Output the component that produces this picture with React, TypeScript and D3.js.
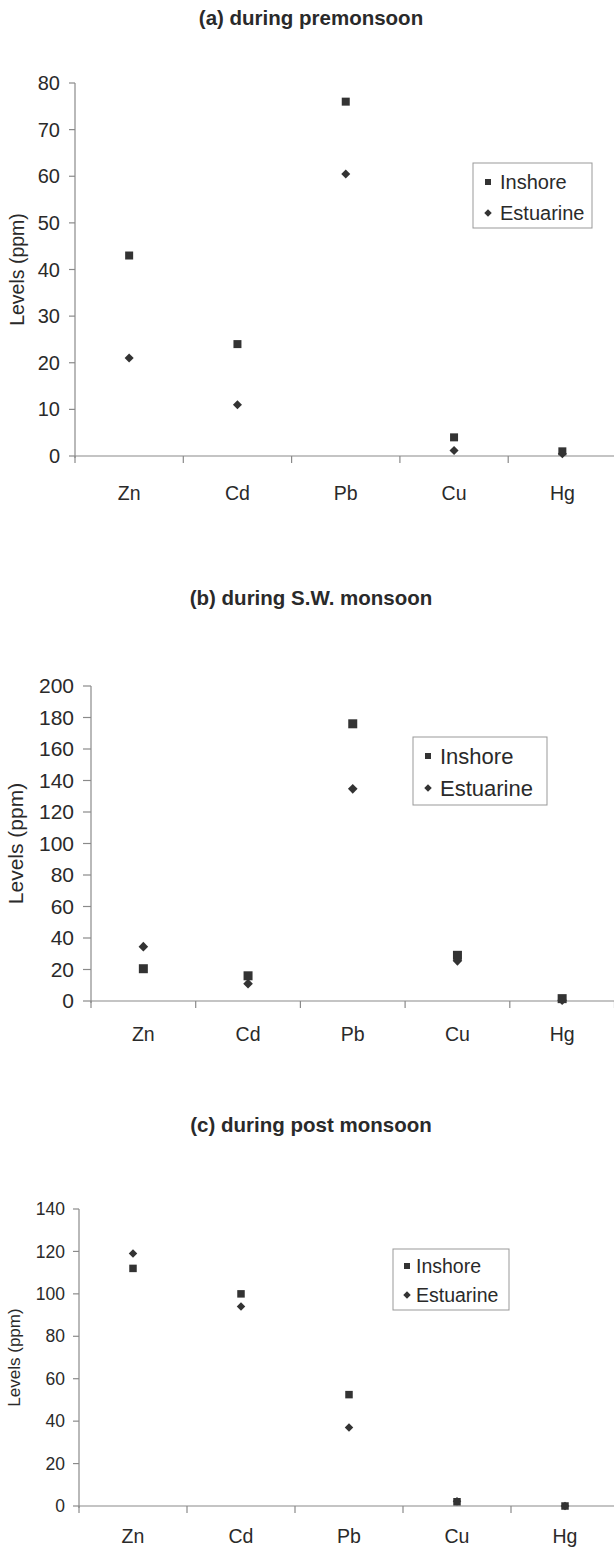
import React from "react";
import * as d3 from "d3";

const metals = ["Zn", "Cd", "Pb", "Cu", "Hg"];
const seriesNames = ["Inshore", "Estuarine"];

const preInshore = [43, 24, 76, 4, 1];
const preEstuarine = [21, 11, 60.5, 1.2, 0.5];
const preTicks = [0, 10, 20, 30, 40, 50, 60, 70, 80];

const swInshore = [20.5, 16, 176, 29, 1.5];
const swEstuarine = [34.5, 11, 134.7, 25.5, 0.5];
const swTicks = [0, 20, 40, 60, 80, 100, 120, 140, 160, 180, 200];

const postInshore = [112, 100, 52.5, 2, 0];
const postEstuarine = [119, 94, 37, 2.2, 0];
const postTicks = [0, 20, 40, 60, 80, 100, 120, 140];

const titles = ["(a) during premonsoon", "(b) during S.W. monsoon", "(c) during post monsoon"];
const yTitle = "Levels (ppm)";

const FONT = "'Liberation Sans', Arial, Helvetica, sans-serif";
const INK = "#333";
const TXT = "#2a2a2a";
const AXIS = "#8a8a8a";

type Layout = {
  titleY: number;
  titleSize: number;
  x0: number;
  band: number;
  y0: number;
  yTop: number;
  tickSize: number;
  tickLen: number;
  labelGap: number;
  labelY: number;
  yTitleX: number;
  yTitleSize: number;
  legend: { x: number; y: number; w: number; h: number; row1: number; row2: number; mx: number; tx: number; size: number };
  sq: number;
  di: number;
};

const layouts: Layout[] = [
  {
    titleY: 25, titleSize: 20.5, x0: 75, band: 108.3, y0: 456, yTop: 83, tickSize: 20, tickLen: 6, labelGap: 15, labelY: 500,
    yTitleX: 17, yTitleSize: 19.5,
    legend: { x: 473, y: 163, w: 119, h: 65, row1: 182, row2: 213, mx: 488, tx: 500, size: 20 },
    sq: 8, di: 6.4,
  },
  {
    titleY: 605, titleSize: 20.5, x0: 91, band: 104.7, y0: 1001, yTop: 686, tickSize: 21, tickLen: 8, labelGap: 17, labelY: 1041,
    yTitleX: 16, yTitleSize: 21,
    legend: { x: 413, y: 737, w: 134, h: 68, row1: 756, row2: 788, mx: 428, tx: 440, size: 22 },
    sq: 9, di: 6.8,
  },
  {
    titleY: 1132, titleSize: 20.5, x0: 79, band: 108, y0: 1506, yTop: 1209, tickSize: 17.5, tickLen: 6, labelGap: 14, labelY: 1543,
    yTitleX: 14, yTitleSize: 17,
    legend: { x: 393, y: 1249, w: 116, h: 61, row1: 1266, row2: 1295, mx: 407, tx: 416, size: 19.5 },
    sq: 7.5, di: 6,
  },
];

function Chart({ title, inshore, estuarine, ticks, L }: { title: string; inshore: number[]; estuarine: number[]; ticks: number[]; L: Layout }) {
  const x = d3.scaleBand<string>().domain(metals).range([L.x0, L.x0 + metals.length * L.band]);
  const y = d3.scaleLinear().domain([0, ticks[ticks.length - 1]]).range([L.y0, L.yTop]);
  const square = d3.symbol(d3.symbolSquare, L.sq * L.sq)() as string;
  const diamond = d3.symbol(d3.symbolSquare, L.di * L.di)() as string;
  const legSq = d3.symbol(d3.symbolSquare, 36)() as string;
  const legDi = d3.symbol(d3.symbolSquare, 28)() as string;
  const cx = (m: string) => (x(m) as number) + x.bandwidth() / 2;
  const boundaries = metals.map((m) => x(m) as number).concat([x.range()[1]]);
  const midY = (y(0) + y(ticks[ticks.length - 1])) / 2;
  return (
    <g>
      <text x={311} y={L.titleY} textAnchor="middle" fontFamily={FONT} fontWeight="bold" fontSize={L.titleSize} fill={TXT}>
        {title}
      </text>
      {/* y axis */}
      <line x1={L.x0} x2={L.x0} y1={y(0) + 2} y2={y(ticks[ticks.length - 1])} stroke={AXIS} strokeWidth={1.2} />
      {ticks.map((t) => (
        <g key={t}>
          <line x1={L.x0 - L.tickLen} x2={L.x0} y1={y(t)} y2={y(t)} stroke={AXIS} strokeWidth={1.2} />
          <text x={L.x0 - L.labelGap} y={y(t)} dy="0.35em" textAnchor="end" fontFamily={FONT} fontSize={L.tickSize} fill={TXT}>
            {t}
          </text>
        </g>
      ))}
      {/* x axis */}
      <line x1={L.x0} x2={x.range()[1]} y1={y(0)} y2={y(0)} stroke={AXIS} strokeWidth={1.2} />
      {boundaries.map((b, i) => (
        <line key={i} x1={b} x2={b} y1={y(0)} y2={y(0) + 7} stroke={AXIS} strokeWidth={1.2} />
      ))}
      {metals.map((m) => (
        <text key={m} x={cx(m)} y={L.labelY} textAnchor="middle" fontFamily={FONT} fontSize={19.5} fill={TXT}>
          {m}
        </text>
      ))}
      <text
        transform={`translate(${L.yTitleX},${midY}) rotate(-90)`}
        dy="0.35em"
        textAnchor="middle"
        fontFamily={FONT}
        fontSize={L.yTitleSize}
        fill={TXT}
      >
        {yTitle}
      </text>
      {/* points */}
      {metals.map((m, i) => (
        <path key={"e" + m} d={diamond} transform={`translate(${cx(m)},${y(estuarine[i])}) rotate(45)`} fill={INK} />
      ))}
      {metals.map((m, i) => (
        <path key={"i" + m} d={square} transform={`translate(${cx(m)},${y(inshore[i])})`} fill={INK} />
      ))}
      {/* legend */}
      <rect x={L.legend.x} y={L.legend.y} width={L.legend.w} height={L.legend.h} fill="none" stroke="#999" strokeWidth={1} />
      <path d={legSq} transform={`translate(${L.legend.mx},${L.legend.row1})`} fill={INK} />
      <text x={L.legend.tx} y={L.legend.row1} dy="0.35em" fontFamily={FONT} fontSize={L.legend.size} fill={TXT}>
        {seriesNames[0]}
      </text>
      <path d={legDi} transform={`translate(${L.legend.mx},${L.legend.row2}) rotate(45)`} fill={INK} />
      <text x={L.legend.tx} y={L.legend.row2} dy="0.35em" fontFamily={FONT} fontSize={L.legend.size} fill={TXT}>
        {seriesNames[1]}
      </text>
    </g>
  );
}

export default function App() {
  return (
    <svg width={614} height={1548} style={{ position: "absolute", left: 0, top: 0, background: "#fff" }}>
      <rect width={614} height={1548} fill="#fff" />
      <Chart title={titles[0]} inshore={preInshore} estuarine={preEstuarine} ticks={preTicks} L={layouts[0]} />
      <Chart title={titles[1]} inshore={swInshore} estuarine={swEstuarine} ticks={swTicks} L={layouts[1]} />
      <Chart title={titles[2]} inshore={postInshore} estuarine={postEstuarine} ticks={postTicks} L={layouts[2]} />
    </svg>
  );
}
